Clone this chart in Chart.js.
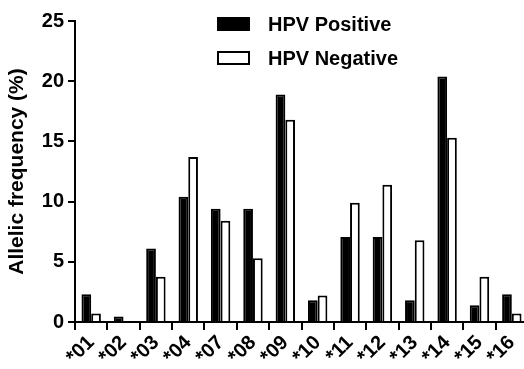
<!DOCTYPE html>
<html>
<head>
<meta charset="utf-8">
<script src="https://cdn.jsdelivr.net/npm/chart.js@4.4.0/dist/chart.umd.min.js"></script>
<style>
  html, body { margin: 0; padding: 0; background: #fff; overflow: hidden; }
  #wrap { position: relative; width: 530px; height: 369px; }
</style>
</head>
<body>
<div id="wrap"><canvas id="alleleChart"></canvas></div>
<script>
// allele groups and frequencies (%)
const alleles = ["*01", "*02", "*03", "*04", "*07", "*08", "*09", "*10", "*11", "*12", "*13", "*14", "*15", "*16"];
const hpvPositive = [2.3, 0.45, 6.1, 10.4, 9.4, 9.4, 18.9, 1.8, 7.05, 7.05, 1.8, 20.4, 1.4, 2.3];
const hpvNegative = [0.7, 0, 3.75, 13.7, 8.4, 5.3, 16.8, 2.2, 9.9, 11.4, 6.8, 15.3, 3.75, 0.7];
const yTicks = [0, 5, 10, 15, 20, 25];

const FONT = "'Liberation Sans', Arial, sans-serif";

// legend drawn inside the plot, top right
const innerLegend = {
  id: "innerLegend",
  afterDraw(chart) {
    const ctx = chart.ctx;
    ctx.save();
    chart.data.datasets.forEach((ds, i) => {
      let y = 24 + i * 34;
      ctx.fillStyle = ds.backgroundColor;
      ctx.strokeStyle = "#000";
      ctx.lineWidth = 2;
      ctx.fillRect(218, y - 6, 31, 12);
      ctx.strokeRect(218, y - 6, 31, 12);
      ctx.fillStyle = "#000";
      ctx.font = "bold 20px " + FONT;
      ctx.textBaseline = "middle";
      ctx.textAlign = "left";
      ctx.fillText(ds.label, 268, y + 1);
    });
    ctx.restore();
  }
};

const ctx = document.getElementById("alleleChart");

new Chart(ctx, {
  type: "bar",
  data: {
    labels: alleles,
    datasets: [{
      label: "HPV Positive",
      data: hpvPositive,
      backgroundColor: "#000",
      borderColor: "#000",
      borderWidth: 2,
      categoryPercentage: 0.6,
      barPercentage: 1.0
    }, {
      label: "HPV Negative",
      data: hpvNegative,
      backgroundColor: "#fff",
      borderColor: "#000",
      borderWidth: 2,
      categoryPercentage: 0.6,
      barPercentage: 1.0
    }]
  },
  options: {
    responsive: true,
    maintainAspectRatio: false,
    animation: false,
    layout: { padding: { top: 21, right: 2, left: 0, bottom: 0 } },
    plugins: {
      legend: { display: false },
      tooltip: { enabled: false }
    },
    scales: {
      x: {
        grid: { display: true, drawOnChartArea: false, drawTicks: true, tickLength: 8, color: "#000", lineWidth: 2 },
        border: { display: true, color: "#000", width: 2 },
        ticks: {
          color: "#000",
          font: { family: FONT, size: 20, weight: "bold" },
          maxRotation: 45,
          minRotation: 45,
          autoSkip: false,
          padding: 1
        },
        afterFit(scale) { scale.height = 47; }
      },
      y: {
        min: 0,
        max: 25,
        afterBuildTicks(scale) { scale.ticks = yTicks.map(v => ({ value: v })); },
        grid: { display: true, drawOnChartArea: false, drawTicks: true, tickLength: 7, color: "#000", lineWidth: 2 },
        border: { display: true, color: "#000", width: 2 },
        ticks: {
          color: "#000",
          font: { family: FONT, size: 20, weight: "bold" },
          padding: 4
        },
        title: {
          display: true,
          text: "Allelic frequency (%)",
          color: "#000",
          font: { family: FONT, size: 21, weight: "bold" },
          padding: { top: 5, bottom: 0 }
        },
        afterFit(scale) { scale.width = 75; }
      }
    }
  },
  plugins: [innerLegend]
});
</script>
</body>
</html>
